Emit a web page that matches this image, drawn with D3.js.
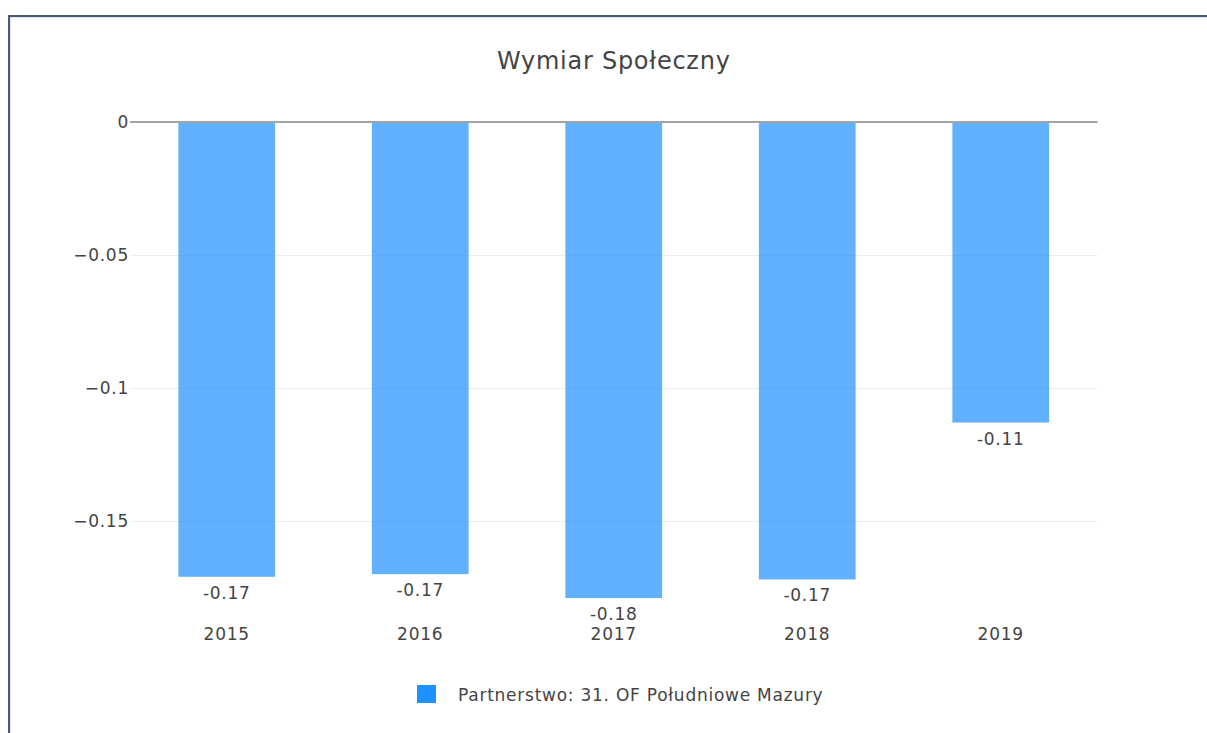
<!DOCTYPE html>
<html>
<head>
<meta charset="utf-8">
<script src="https://cdn.jsdelivr.net/npm/d3@7"></script>
<style>
  html, body { margin: 0; padding: 0; background: #fff; }
  svg { display: block; }
  text { font-family: "DejaVu Sans", Verdana, sans-serif; fill: #444; letter-spacing: 0.75px; }
</style>
</head>
<body>
<svg id="chart" width="1207" height="733"></svg>
<script>
const title = "Wymiar Społeczny";
const seriesName = "Partnerstwo: 31. OF Południowe Mazury";
const years = ["2015", "2016", "2017", "2018", "2019"];
const values = [-0.171, -0.170, -0.179, -0.172, -0.113];
const yTicks = [0, -0.05, -0.1, -0.15];
const yTickLabels = ["0", "\u22120.05", "\u22120.1", "\u22120.15"];

const svg = d3.select("#chart");
const W = 1207, H = 733;

// frame
svg.append("path")
  .attr("d", `M9,${H} L9,16 L${W},16`)
  .attr("fill", "none").attr("stroke", "#4b5872").attr("stroke-width", 2);
svg.append("path")
  .attr("d", `M10.5,${H} L10.5,17.5 L${W},17.5`)
  .attr("fill", "none").attr("stroke", "#dfe6f4").attr("stroke-width", 1);

const plot = { left: 130, right: 1097.5, top: 122, bottom: 622 };

const x = d3.scaleBand().domain(years)
  .range([plot.left, plot.right])
  .paddingInner(0.5).paddingOuter(0.25);

const y = d3.scaleLinear().domain([-0.188, 0]).range([plot.bottom, plot.top]);

// gridlines
svg.append("g").selectAll("line")
  .data(yTicks.filter(d => d !== 0))
  .join("line")
  .attr("x1", plot.left).attr("x2", plot.right)
  .attr("y1", d => Math.round(y(d)) + 0.5).attr("y2", d => Math.round(y(d)) + 0.5)
  .attr("stroke", "#eeeeee").attr("stroke-width", 1);

// y tick labels
svg.append("g").selectAll("text")
  .data(yTicks)
  .join("text")
  .attr("x", plot.left - 1)
  .attr("y", d => y(d) + 6)
  .attr("text-anchor", "end")
  .attr("font-size", 17)
  .text((d, i) => yTickLabels[i]);

// bars
svg.append("g").selectAll("rect")
  .data(values)
  .join("rect")
  .attr("x", (d, i) => x(years[i]))
  .attr("width", x.bandwidth())
  .attr("y", d => y(0))
  .attr("height", d => y(d) - y(0))
  .attr("fill", "#1e90ff").attr("fill-opacity", 0.7);

// zero line
svg.append("line")
  .attr("x1", plot.left).attr("x2", plot.right)
  .attr("y1", y(0)).attr("y2", y(0))
  .attr("stroke", "#a3a3a3").attr("stroke-width", 2);

// value labels
svg.append("g").selectAll("text")
  .data(values)
  .join("text")
  .attr("x", (d, i) => x(years[i]) + x.bandwidth() / 2)
  .attr("y", d => y(d) + 22)
  .attr("text-anchor", "middle")
  .attr("font-size", 17)
  .text(d => d.toFixed(2));

// x tick labels
svg.append("g").selectAll("text")
  .data(years)
  .join("text")
  .attr("x", d => x(d) + x.bandwidth() / 2)
  .attr("y", 640)
  .attr("text-anchor", "middle")
  .attr("font-size", 17)
  .text(d => d);

// title
svg.append("text")
  .attr("x", (plot.left + plot.right) / 2)
  .attr("y", 69)
  .attr("text-anchor", "middle")
  .attr("font-size", 24)
  .text(title);

// legend
const lg = svg.append("g");
lg.append("rect")
  .attr("x", 417).attr("y", 685).attr("width", 19).attr("height", 18)
  .attr("fill", "#1e90ff");
lg.append("text")
  .attr("x", 458).attr("y", 701)
  .attr("font-size", 17)
  .text(seriesName);
</script>
</body>
</html>
